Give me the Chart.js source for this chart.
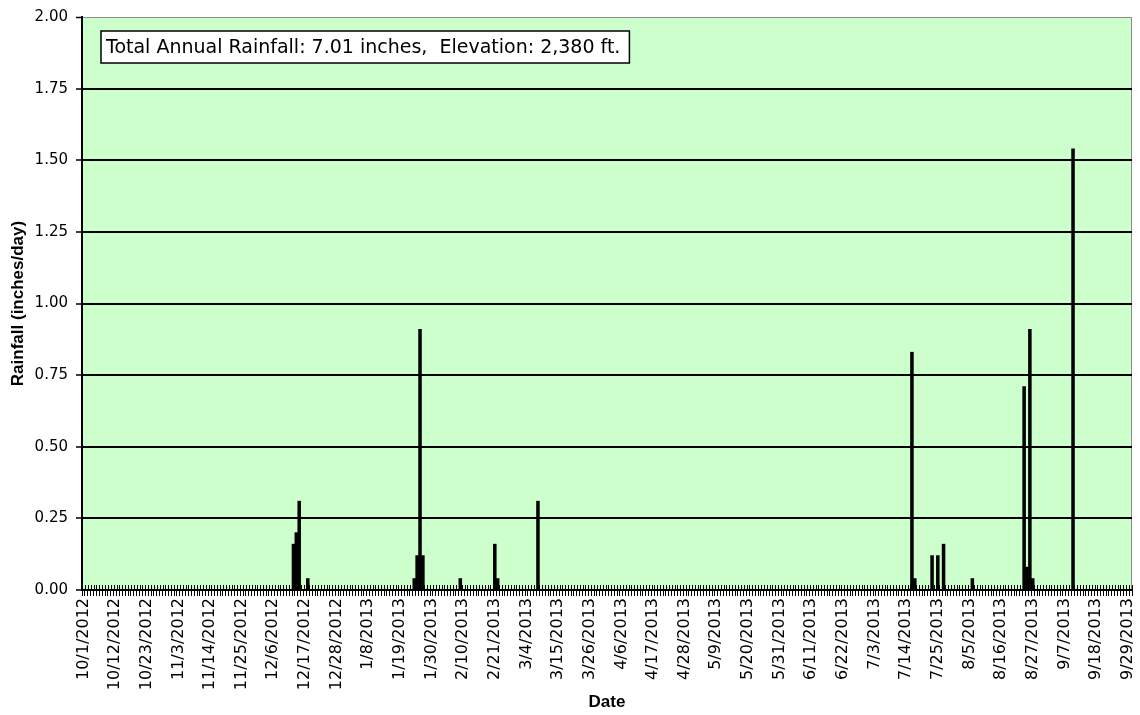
<!DOCTYPE html>
<html><head><meta charset="utf-8">
<script src="https://cdn.jsdelivr.net/npm/chart.js@4/dist/chart.umd.min.js"></script>
<style>html,body{margin:0;padding:0;background:#fff;}#wrap{width:1140px;height:715px;}</style>
</head><body><div id="wrap"><canvas id="c" width="1140" height="715"></canvas></div>
<script>
// ---- data ----
const startYear = 2012, startMonth = 10, startDay = 1;   // water year start (10/1/2012)
const dayCount = 365;
const labelEvery = 11;
const rainDates = ['12/13/2012','12/14/2012','12/15/2012','12/18/2012',
  '1/24/2013','1/25/2013','1/26/2013','1/27/2013','2/9/2013','2/21/2013','2/22/2013','3/8/2013',
  '7/16/2013','7/17/2013','7/23/2013','7/25/2013','7/27/2013','8/6/2013',
  '8/24/2013','8/25/2013','8/26/2013','8/27/2013','9/10/2013'];
const rainAmounts = [0.16,0.20,0.31,0.04,
  0.04,0.12,0.91,0.12,0.04,0.16,0.04,0.31,
  0.83,0.04,0.12,0.12,0.16,0.04,
  0.71,0.08,0.91,0.04,1.54];
const yMin = 0, yMax = 2, yStep = 0.25;
const annotationText = 'Total Annual Rainfall: 7.01 inches,  Elevation: 2,380 ft.';
const yTitle = 'Rainfall (inches/day)';
const xTitle = 'Date';

// ---- build categories & daily series ----
const categories = [];
for (let i = 0; i < dayCount; i++) {
  const d = new Date(Date.UTC(startYear, startMonth - 1, startDay + i));
  categories.push((d.getUTCMonth() + 1) + '/' + d.getUTCDate() + '/' + d.getUTCFullYear());
}
const rainMap = {};
rainDates.forEach((d, k) => { rainMap[d] = rainAmounts[k]; });
const daily = categories.map(c => (c in rainMap ? rainMap[c] : 0));

// ---- plugins ----
const plotBg = {
  id: 'plotBg',
  beforeDraw(chart) {
    const {ctx, chartArea: a} = chart;
    ctx.save();
    ctx.fillStyle = '#CCFFCC';
    ctx.fillRect(a.left, a.top, a.right - a.left, a.bottom - a.top);
    ctx.strokeStyle = '#8c8c8c';
    ctx.lineWidth = 1;
    ctx.strokeRect(a.left + 0.5, a.top + 0.5, a.right - a.left - 1, a.bottom - a.top - 1);
    ctx.restore();
  }
};
const crossTicks = {
  id: 'crossTicks',
  afterDatasetsDraw(chart) {
    const {ctx, chartArea: a} = chart;
    const xs = chart.scales.x;
    const n = xs.ticks.length;
    const step = xs.getPixelForValue(1) - xs.getPixelForValue(0);
    const x0 = xs.getPixelForValue(0) - step / 2;
    ctx.save();
    ctx.strokeStyle = '#000';
    ctx.lineWidth = 1;
    ctx.beginPath();
    for (let i = 0; i <= n; i++) {
      const x = Math.round(x0 + i * step) + 0.5;
      ctx.moveTo(x, a.bottom - 5);
      ctx.lineTo(x, a.bottom);
    }
    ctx.stroke();
    ctx.restore();
  }
};
const annotation = {
  id: 'annotation',
  afterDraw(chart) {
    const {ctx, chartArea: a} = chart;
    ctx.save();
    ctx.font = '19px "DejaVu Sans"';
    const tw = ctx.measureText(annotationText).width;
    const bx = a.left + 19, by = a.top + 14, bw = tw + 14, bh = 32;
    ctx.fillStyle = '#fff';
    ctx.fillRect(bx, by, bw, bh);
    ctx.strokeStyle = '#000';
    ctx.lineWidth = 1.5;
    ctx.strokeRect(bx, by, bw, bh);
    ctx.fillStyle = '#000';
    ctx.textBaseline = 'middle';
    ctx.textAlign = 'left';
    ctx.fillText(annotationText, bx + 5, by + bh / 2 + 1);
    ctx.restore();
  }
};

const yTickFont = {family: 'DejaVu Sans', size: 15};
const xTickFont = {family: 'DejaVu Sans', size: 16};
const titleFont = {family: 'Liberation Sans', size: 17, weight: 'bold'};

new Chart(document.getElementById('c'), {
  type: 'bar',
  data: {
    labels: categories,
    datasets: [{
      data: daily,
      backgroundColor: '#000',
      borderWidth: 0,
      barPercentage: 1,
      categoryPercentage: 1
    }]
  },
  options: {
    responsive: false,
    animation: false,
    devicePixelRatio: 1,
    layout: {padding: {top: 16, right: 8, left: 0, bottom: 0}},
    plugins: {legend: {display: false}, tooltip: {enabled: false}},
    scales: {
      x: {
        offset: true,
        grid: {display: true, drawOnChartArea: false, offset: true, tickLength: 6, color: '#000', lineWidth: 1},
        border: {display: true, color: '#000', width: 2},
        ticks: {
          autoSkip: false, maxRotation: 90, minRotation: 90, padding: 2, color: '#000', font: xTickFont,
          callback: (v, i) => (i % labelEvery === 0 ? categories[i] : '')
        },
        title: {display: true, text: xTitle, color: '#000', font: titleFont, padding: {top: 0, bottom: 2}},
        afterFit(s) { s.height = 125; s.paddingLeft = 0; s.paddingRight = 0; }
      },
      y: {
        min: yMin, max: yMax,
        ticks: {stepSize: yStep, padding: 8, color: '#000', font: yTickFont, callback: v => Number(v).toFixed(2)},
        grid: {
          color: c => (c.tick && c.tick.value === yMax ? '#8c8c8c' : '#000'),
          lineWidth: c => (c.tick && c.tick.value === yMax ? 1 : 2),
          tickLength: 6, tickColor: '#000', tickWidth: 1.5
        },
        border: {color: '#000', width: 2},
        title: {display: true, text: yTitle, color: '#000', font: titleFont, padding: {top: 8, bottom: 0}},
        afterFit(s) { s.width = 82; }
      }
    }
  },
  plugins: [plotBg, crossTicks, annotation]
});
</script></body></html>
